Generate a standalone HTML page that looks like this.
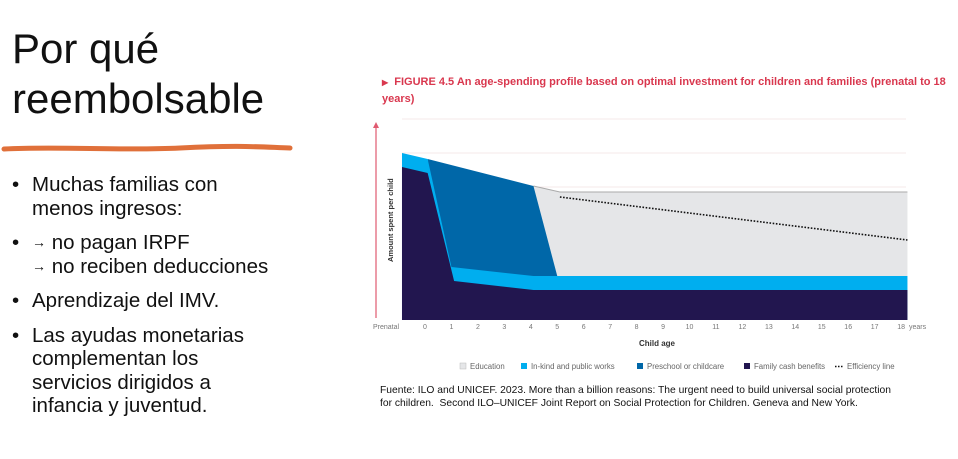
<!DOCTYPE html>
<html><head><meta charset="utf-8"><style>
body{margin:0;width:958px;height:459px;background:#fff;font-family:"Liberation Sans",sans-serif;position:relative;overflow:hidden}
.t{position:absolute;left:12px;top:24px;font-size:42px;line-height:50px;color:#111}
ul{position:absolute;left:10px;top:173px;margin:0;padding:0;list-style:none;font-size:20.5px;line-height:23.5px;color:#111}
li{position:relative;padding-left:22px;margin-bottom:11px}
li:before{content:"•";position:absolute;left:2px}
.ar{font-size:14px;vertical-align:2px}
.ft{position:absolute;left:382px;top:74px;width:575px;font-size:11px;font-weight:bold;color:#d9374e;line-height:17px}
.src{position:absolute;left:380px;top:384px;width:512px;font-size:10.3px;line-height:13px;color:#111}
</style></head><body>
<div class="t">Por qué<br>reembolsable</div>
<svg style="position:absolute;left:0;top:140px" width="300" height="16"><path d="M4 9 C60 6,120 11,180 8 S260 7,290 8" stroke="#e0703a" stroke-width="5" fill="none" stroke-linecap="round"/></svg>
<ul>
<li>Muchas familias con<br>menos ingresos:</li>
<li><span class="ar">→</span> no pagan IRPF<br><span class="ar">→</span> no reciben deducciones</li>
<li>Aprendizaje del IMV.</li>
<li>Las ayudas monetarias<br>complementan los<br>servicios dirigidos a<br>infancia y juventud.</li>
</ul>
<div class="ft"><span style="font-size:8px">▶</span>&nbsp; FIGURE 4.5 An age-spending profile based on optimal investment for children and families (prenatal to 18 years)</div>
<svg id="ch" style="position:absolute;left:0;top:0" width="958" height="459"></svg>
<div class="src">Fuente: ILO and UNICEF. 2023. More than a billion reasons: The urgent need to build universal social protection for children.&nbsp; Second ILO–UNICEF Joint Report on Social Protection for Children. Geneva and New York.</div>
<script>
const ticks=["0","1","2","3","4","5","6","7","8","9","10","11","12","13","14","15","16","17","18"];
const familyAge=[-0.87,0.1,1.1,4.1,18.24];
const familyVal=[153,147,39,30,30];
const inkindAge=[-0.87,0.1,1.0,4.1,18.24];
const inkindVal=[167,161,53,44,44];
const preschoolAge=[0.1,4.1,5.0];
const preschoolVal=[161,134,44];
const educationAge=[4.1,5.1,18.24];
const educationVal=[134,128,128];
const effAge=[5.1,18.24];
const effVal=[123,80];
const grid=[201,167,133];
const X=a=>425+a*26.45, Y=v=>320-v;
const s=document.getElementById('ch'),NS="http://www.w3.org/2000/svg";
function mk(t,a,n){const e=document.createElementNS(NS,t);for(const k in a)e.setAttribute(k,a[k]);


s.appendChild(e);return e;}
grid.forEach((g,i)=>mk('line',{x1:402,x2:906,y1:Y(g),y2:Y(g),stroke:'#f5e8ea','stroke-width':1},'gridline-'+i));
function area(ages,vals,col,n){let d=`M${X(ages[0])},320 `;ages.forEach((a,i)=>d+=`L${X(a)},${Y(vals[i])} `);d+=`L${X(ages[ages.length-1])},320Z`;mk('path',{d,fill:col},n);}
area(educationAge,educationVal,'#e5e6e8','area-education');
mk('polyline',{points:educationAge.map((a,i)=>X(a)+','+Y(educationVal[i])).join(' '),fill:'none',stroke:'#aaa','stroke-width':1},'education-edge');
area(preschoolAge,preschoolVal,'#0067a8','area-preschool');
area(inkindAge,inkindVal,'#00aeef','area-inkind');
area(familyAge,familyVal,'#22164f','area-family-cash');
mk('line',{x1:X(effAge[0]),y1:Y(effVal[0]),x2:X(effAge[1]),y2:Y(effVal[1]),stroke:'#111','stroke-width':1.6,'stroke-dasharray':'1.6 1.6'},'efficiency-line');
mk('line',{x1:376,x2:376,y1:318,y2:126,stroke:'#e05a70','stroke-width':1.2},'y-axis-arrow');
mk('path',{d:'M373,128 L376,122 L379,128Z',fill:'#e05a70'},'y-arrow-head');
const yt=mk('text',{x:0,y:0,transform:'translate(393,262) rotate(-90)','font-size':7.5,'font-weight':'bold',fill:'#333'},'y-axis-title');yt.textContent='Amount spent per child';
const pt=mk('text',{x:373,y:329,'font-size':7,fill:'#777'},'tick-prenatal');pt.textContent='Prenatal';
ticks.forEach((t,i)=>{const e=mk('text',{x:X(+t),y:329,'font-size':7,fill:'#777','text-anchor':'middle'},'tick-'+t);e.textContent=t;});
const yr=mk('text',{x:909,y:329,'font-size':7,fill:'#777'},'tick-years');yr.textContent='years';
const xt=mk('text',{x:657,y:346,'font-size':8,'font-weight':'bold',fill:'#333','text-anchor':'middle'},'x-axis-title');xt.textContent='Child age';
const leg=[['Education','#e5e6e8',460],['In-kind and public works','#00aeef',521],['Preschool or childcare','#0067a8',637],['Family cash benefits','#22164f',744]];
leg.forEach(([t,c,x],i)=>{mk('rect',{x:x,y:363,width:6,height:6,fill:c,stroke:i==0?'#bbb':'none','stroke-width':0.5},'legend-swatch-'+i);
const e=mk('text',{x:x+10,y:369,'font-size':7.8,fill:'#666'},'legend-entry-'+i);e.textContent=t;});
mk('line',{x1:835,x2:844,y1:366.5,y2:366.5,stroke:'#111','stroke-width':1.5,'stroke-dasharray':'1.5 1.5'},'legend-swatch-efficiency');
const ef=mk('text',{x:847,y:369,'font-size':7.8,fill:'#666'},'legend-entry-efficiency');ef.textContent='Efficiency line';
</script>
</body></html>
